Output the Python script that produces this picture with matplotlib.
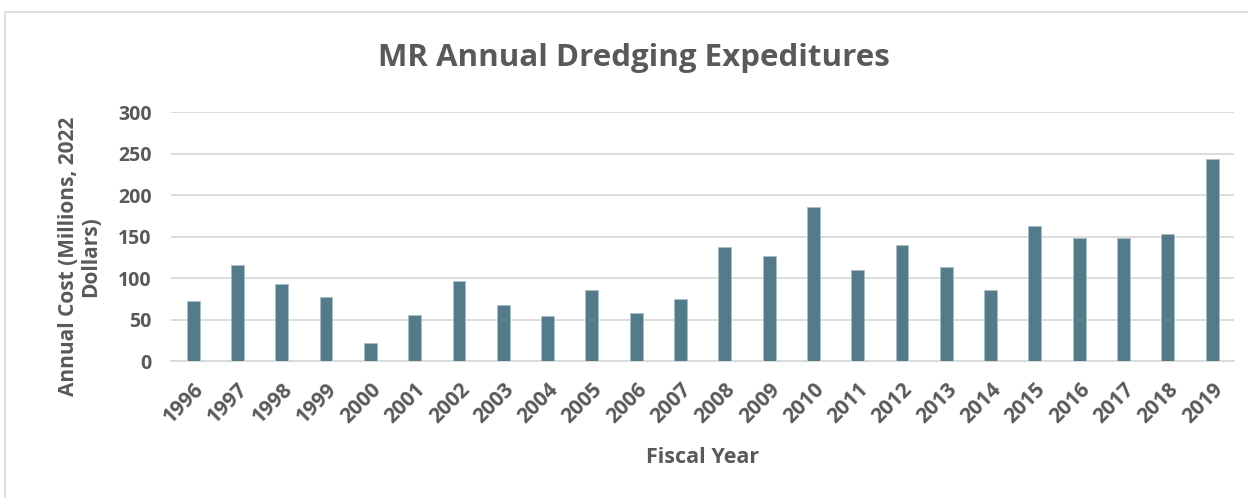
import matplotlib.pyplot as plt
from matplotlib.patches import Rectangle

# Annual dredging spend, millions of 2022 dollars
years = [str(y) for y in range(1996, 2020)]
costs = [72, 116, 93, 77, 22, 55, 97, 68, 54, 86, 58, 75,
         137, 127, 186, 110, 140, 113, 86, 163, 148, 148, 153, 243]
y_ticks = [0, 50, 100, 150, 200, 250, 300]

text_color = '#595959'
bar_color = '#537b8a'
grid_color = '#d9d9d9'

plt.rcParams['font.family'] = ['Open Sans', 'DejaVu Sans']

fig = plt.figure(figsize=(12.48, 4.98), dpi=100)
ax = fig.add_axes([0.137, 0.275, 0.852, 0.50])

x = range(len(years))
ax.bar(x, costs, width=0.29, color=bar_color, edgecolor='#a9bec6',
       linewidth=0.6, zorder=3)

ax.set_xlim(-0.5, len(years) - 0.5)
ax.set_ylim(0, 300)
ax.set_yticks(y_ticks)
ax.set_yticklabels([str(t) for t in y_ticks], fontsize=14,
                   fontweight='bold', color=text_color)
ax.set_xticks(list(x))
ax.set_xticklabels(years, rotation=45, ha='right', rotation_mode='anchor',
                   fontsize=15, fontweight='bold', color=text_color)

ax.yaxis.grid(True, color=grid_color, linewidth=1.3, zorder=0)
ax.set_axisbelow(True)
for side in ['top', 'right', 'left']:
    ax.spines[side].set_visible(False)
ax.spines['bottom'].set_color(grid_color)
ax.spines['bottom'].set_linewidth(1.3)
ax.tick_params(axis='y', length=0, pad=14)
ax.tick_params(axis='x', length=0, pad=13)

ax.set_xlabel('Fiscal Year', fontsize=15.5, fontweight='bold',
              color=text_color, labelpad=14)
ax.set_ylabel('Annual Cost (Millions, 2022\nDollars)', fontsize=15,
              fontweight='bold', color=text_color, linespacing=1.05)
ax.yaxis.set_label_coords(-0.066, 0.42)

fig.text(0.508, 0.884, 'MR Annual Dredging Expeditures', ha='center',
         va='center', fontsize=22.5, fontweight='bold', color=text_color)

# light chart frame
fig.patches.append(Rectangle((0.004, -0.02), 1.2, 0.995,
                             transform=fig.transFigure, fill=False,
                             edgecolor='#d9d9d9', linewidth=1.2))

fig.savefig('out.png', dpi=100)
